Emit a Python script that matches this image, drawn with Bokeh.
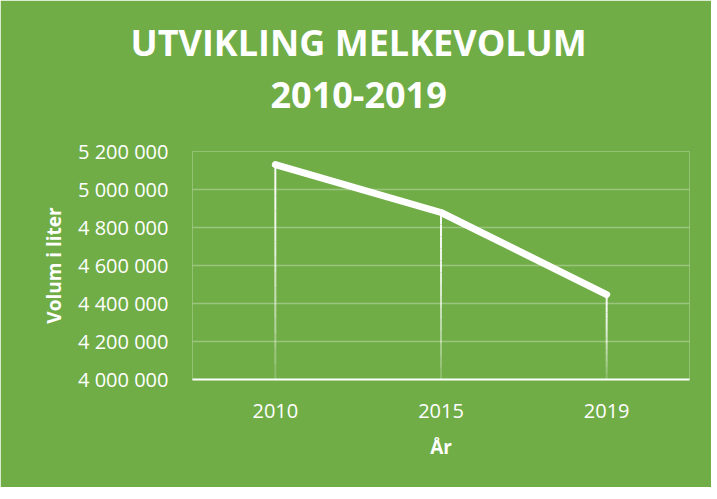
from bokeh.plotting import figure
from bokeh.models import FixedTicker, Title
from bokeh.embed import file_html
from bokeh.resources import INLINE

years = ["2010", "2015", "2019"]
volumes = [5131000, 4879000, 4447000]
y_ticks = [4000000, 4200000, 4400000, 4600000, 4800000, 5000000, 5200000]
y_tick_labels = ["4 000 000", "4 200 000", "4 400 000", "4 600 000", "4 800 000", "5 000 000", "5 200 000"]
title_line1 = "UTVIKLING MELKEVOLUM"
title_line2 = "2010-2019"
x_title = "År"
y_title = "Volum i liter"

GREEN = "#70AD47"
FONT = "Open Sans"

W, H = 711, 487
p = figure(width=W, height=H, x_range=years, y_range=(y_ticks[0], y_ticks[-1]),
           output_backend="svg", toolbar_location=None,
           min_border_left=192, min_border_right=22, min_border_top=151, min_border_bottom=108)
p.background_fill_color = GREEN
p.border_fill_color = GREEN
p.outline_line_color = None
p.x_range.range_padding = 0

# grid
p.xgrid.grid_line_color = None
p.ygrid.grid_line_color = "white"
p.ygrid.grid_line_alpha = 0.3
p.ygrid.grid_line_width = 1.5

# y axis
p.yaxis.ticker = FixedTicker(ticks=y_ticks)
p.yaxis.major_label_overrides = {t: l for t, l in zip(y_ticks, y_tick_labels)}
p.yaxis.axis_line_color = None
p.yaxis.major_tick_line_color = None
p.yaxis.minor_tick_line_color = None
p.yaxis.major_tick_out = 0
p.yaxis.major_label_standoff = 24
p.yaxis.major_label_text_color = "white"
p.yaxis.major_label_text_font = FONT
p.yaxis.major_label_text_font_size = "20px"
p.yaxis.axis_label = y_title
p.yaxis.axis_label_text_color = "white"
p.yaxis.axis_label_text_font = FONT
p.yaxis.axis_label_text_font_style = "bold"
p.yaxis.axis_label_text_font_size = "19px"
p.yaxis.axis_label_standoff = 8

# x axis
p.xaxis.axis_line_color = "white"
p.xaxis.axis_line_width = 2
p.xaxis.major_tick_line_color = None
p.xaxis.minor_tick_line_color = None
p.xaxis.major_tick_out = 0
p.xaxis.major_label_standoff = 24
p.xaxis.major_label_text_color = "white"
p.xaxis.major_label_text_font = FONT
p.xaxis.major_label_text_font_size = "20px"
p.xaxis.axis_label = x_title
p.xaxis.axis_label_text_color = "white"
p.xaxis.axis_label_text_font = FONT
p.xaxis.axis_label_text_font_style = "bold"
p.xaxis.axis_label_text_font_size = "19px"
p.xaxis.axis_label_standoff = 13

# drop lines with fading toward the bottom
n = 14
base = y_ticks[0]
for i in range(n):
    f0 = i / n
    f1 = (i + 1) / n
    xs, y0s, y1s = [], [], []
    for yr, v in zip(years, volumes):
        xs.append(yr)
        y0s.append(v - (v - base) * f0)
        y1s.append(v - (v - base) * f1)
    alpha = 0.95 - 0.85 * f0 ** 1.6
    p.segment(x0=xs, y0=y0s, x1=xs, y1=y1s, line_color="white", line_width=2, line_alpha=alpha)

# main line
p.line(years, volumes, line_color="white", line_width=7, line_join="round", line_cap="round")

# title (two lines)
t2 = Title(text=title_line2, align="left", offset=78, text_color="white",
           text_font=FONT, text_font_style="bold", text_font_size="36px", standoff=88)
t1 = Title(text=title_line1, align="left", offset=-62, text_color="white",
           text_font=FONT, text_font_style="bold", text_font_size="36px", standoff=-62)
p.add_layout(t2, "above")
p.add_layout(t1, "above")

open("out.html", "w").write(file_html(p, INLINE))
